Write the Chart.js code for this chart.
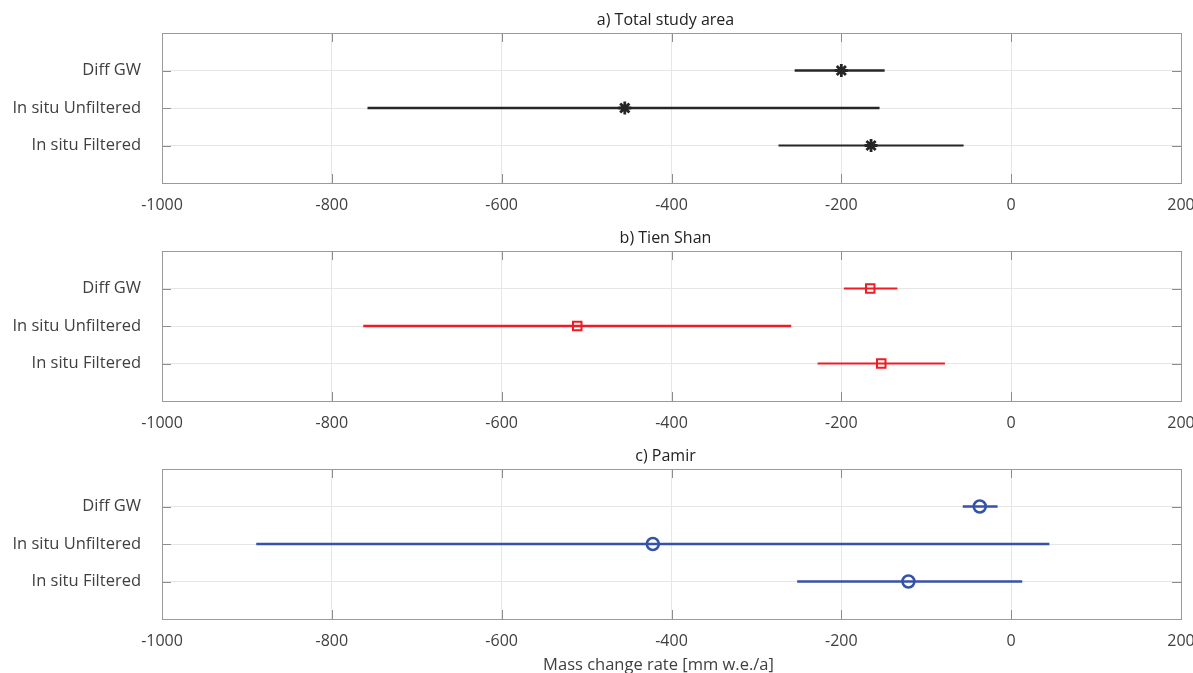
<!DOCTYPE html>
<html>
<head>
<meta charset="utf-8">
<script src="https://cdn.jsdelivr.net/npm/chart.js@4.4.0/dist/chart.umd.min.js"></script>
<style>
    body { margin: 0; background: #fff; width: 1193px; height: 673px; overflow: hidden; position: relative; }
    canvas { position: absolute; left: 0; }
</style>
</head>
<body>
<canvas id="panelA" width="1193" height="218" style="top:0"></canvas>
<canvas id="panelB" width="1193" height="218" style="top:218px"></canvas>
<canvas id="panelC" width="1193" height="237" style="top:436px"></canvas>
<script>
// --- DATA ---
const categories = ['Diff GW', 'In situ Unfiltered', 'In situ Filtered'];
const xTicks = [-1000, -800, -600, -400, -200, 0, 200];

// a) Total study area
const totalMean = [-200, -455, -165];
const totalLow = [-255, -758, -274];
const totalHigh = [-149, -155, -56];

// b) Tien Shan
const tienMean = [-166, -511, -153];
const tienLow = [-197, -763, -228];
const tienHigh = [-134, -259, -78];

// c) Pamir
const pamirMean = [-37, -422, -121];
const pamirLow = [-57, -889, -252];
const pamirHigh = [-16, 45, 13];

Chart.defaults.font.family = "'Open Sans', sans-serif";
Chart.defaults.font.size = 16;
Chart.defaults.color = '#404040';

// matlab style box: frame on all sides, ticks pointing inwards, title over the axes
const framePlugin = {
    id: 'matlabFrame',
    beforeDatasetsDraw(chart, args, opts) {
        const { ctx, chartArea: a, scales } = chart;
        ctx.save();
        ctx.strokeStyle = '#8c8c8c';
        ctx.lineWidth = 1;
        ctx.beginPath();
        xTicks.forEach(v => {
            const px = Math.round(scales.x.getPixelForValue(v)) + 0.5;
            ctx.moveTo(px, a.bottom); ctx.lineTo(px, a.bottom - 9);
            ctx.moveTo(px, a.top); ctx.lineTo(px, a.top + 9);
        });
        categories.forEach((c, i) => {
            const py = Math.round(scales.y.getPixelForValue(i + 1)) + 0.5;
            ctx.moveTo(a.left, py); ctx.lineTo(a.left + 9, py);
            ctx.moveTo(a.right, py); ctx.lineTo(a.right - 9, py);
        });
        ctx.stroke();
        ctx.strokeStyle = '#9a9a9a';
        ctx.strokeRect(Math.round(a.left) + 0.5, Math.round(a.top) + 0.5,
            Math.round(a.right - a.left), Math.round(a.bottom - a.top));
        ctx.textAlign = 'center';
        ctx.textBaseline = 'middle';
        ctx.fillStyle = '#222';
        ctx.font = "16px 'Open Sans', sans-serif";
        ctx.fillText(opts.text, (a.left + a.right) / 2 - 6, a.top - 13);
        if (opts.xTitle) {
            ctx.fillStyle = '#404040';
            ctx.font = "16.5px 'Open Sans', sans-serif";
            ctx.fillText(opts.xTitle, (a.left + a.right) / 2 - 13, a.bottom + 46);
        }
        ctx.restore();
    }
};

function makePanel(id, title, mean, low, high, color, marker, lineWidths, xTitle) {
    const datasets = categories.map((c, i) => ({
        data: [{ x: low[i], y: i + 1 }, { x: high[i], y: i + 1 }],
        showLine: true,
        borderColor: color,
        borderWidth: lineWidths[i],
        borderCapStyle: 'butt',
        pointRadius: 0
    }));
    datasets.push({
        data: mean.map((m, i) => ({ x: m, y: i + 1 })),
        pointStyle: marker.style,
        pointRadius: marker.radius,
        pointBorderWidth: marker.width,
        pointBorderColor: color,
        pointBackgroundColor: 'rgba(0,0,0,0)'
    });

    return new Chart(document.getElementById(id), {
        type: 'scatter',
        data: { datasets },
        options: {
            responsive: false,
            animation: false,
            layout: { padding: { left: 0, right: 12, top: 33, bottom: 0 } },
            plugins: {
                legend: { display: false },
                tooltip: { enabled: false },
                matlabFrame: { text: title, xTitle: xTitle }
            },
            scales: {
                x: {
                    type: 'linear', min: -1000, max: 200,
                    afterBuildTicks: s => { s.ticks = xTicks.map(v => ({ value: v })); },
                    ticks: { callback: v => String(v), padding: 13, autoSkip: false, maxRotation: 0 },
                    grid: { color: '#e6e6e6', drawTicks: false },
                    border: { display: false },
                    afterFit: s => { s.height = xTitle ? 54 : 35; s.paddingLeft = 0; s.paddingRight = 0; }
                },
                y: {
                    type: 'linear', min: 0, max: 4, reverse: true,
                    afterBuildTicks: s => { s.ticks = [0, 1, 2, 3, 4].map(v => ({ value: v })); },
                    ticks: { callback: v => categories[v - 1] || '', padding: 21, autoSkip: false, font: { size: 16.5 } },
                    grid: { color: '#e6e6e6', drawTicks: false },
                    border: { display: false },
                    afterFit: s => { s.width = 162; }
                }
            }
        },
        plugins: [framePlugin]
    });
}

makePanel('panelA', 'a) Total study area', totalMean, totalLow, totalHigh,
    '#262626', { style: 'star', radius: 6.5, width: 2.8 }, [2.7, 2.7, 1.8]);
makePanel('panelB', 'b) Tien Shan', tienMean, tienLow, tienHigh,
    '#ee1c25', { style: 'rect', radius: 6, width: 2 }, [2.2, 2.4, 2.2]);
makePanel('panelC', 'c) Pamir', pamirMean, pamirLow, pamirHigh,
    '#3452a8', { style: 'circle', radius: 6, width: 2.5 }, [2.5, 2.5, 2.5],
    'Mass change rate [mm w.e./a]');
</script>
</body>
</html>
